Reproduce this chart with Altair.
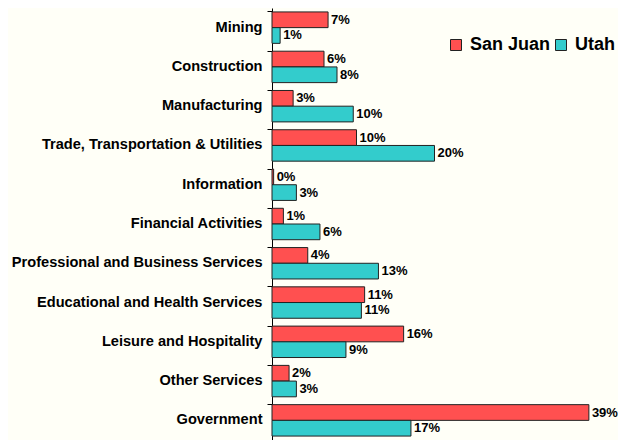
import altair as alt
import pandas as pd

categories = [
    "Mining", "Construction", "Manufacturing", "Trade, Transportation & Utilities",
    "Information", "Financial Activities", "Professional and Business Services",
    "Educational and Health Services", "Leisure and Hospitality", "Other Services",
    "Government",
]
series = ["San Juan", "Utah"]
san_juan = [0.069, 0.064, 0.026, 0.104, 0.002, 0.014, 0.044, 0.114, 0.162, 0.021, 0.390]
utah = [0.010, 0.080, 0.100, 0.200, 0.030, 0.059, 0.131, 0.110, 0.091, 0.030, 0.171]
colors = ["#FF5050", "#33CCCC"]

rows = []
for c, a, b in zip(categories, san_juan, utah):
    rows.append({"Industry": c, "Area": series[0], "Share": a})
    rows.append({"Industry": c, "Area": series[1], "Share": b})
df = pd.DataFrame(rows)

FONT = "Liberation Sans"

y_enc = alt.Y("Industry:N", sort=categories, title=None,
              scale=alt.Scale(paddingInner=0.2, paddingOuter=0.1),
              axis=alt.Axis(labelFont=FONT, labelFontSize=14.6, labelFontWeight="bold",
                            labelColor="black", domainColor="black", tickColor="black",
                            tickSize=5, labelPadding=5, bandPosition=0, grid=False,
                            labelLimit=400))
yoff = alt.YOffset("Area:N", sort=series, scale=alt.Scale(paddingInner=0, paddingOuter=0))
x_enc = alt.X("Share:Q", scale=alt.Scale(domain=[0, 0.4]), axis=None)

bars = alt.Chart(df).mark_bar(stroke="#222222", strokeWidth=1).encode(
    y=y_enc, yOffset=yoff, x=x_enc,
    color=alt.Color("Area:N", sort=series,
                    scale=alt.Scale(domain=series, range=colors),
                    legend=alt.Legend(title=None, orient="none", legendX=175, legendY=28,
                                      direction="horizontal", symbolType="square",
                                      symbolSize=121, symbolStrokeColor="#222222",
                                      symbolStrokeWidth=1, labelFont=FONT,
                                      labelFontSize=18, labelFontWeight="bold",
                                      labelColor="black", labelOffset=5,
                                      columnPadding=1, padding=0)),
)

labels = alt.Chart(df).mark_text(align="left", baseline="middle", dx=3, font=FONT,
                                 fontSize=13, fontWeight="bold", color="black").encode(
    y=y_enc, yOffset=yoff, x=x_enc,
    text=alt.Text("Share:Q", format=".0%"),
)

chart = alt.layer(bars, labels).properties(
    width=325, height=432,
    background="#FFFFF7",
    padding={"left": 264, "top": 0, "right": 21, "bottom": 0},
    autosize=alt.AutoSizeParams(type="none"),
).configure_view(stroke=None)

chart.save("out.html", embed_options={"renderer": "svg", "actions": False})
